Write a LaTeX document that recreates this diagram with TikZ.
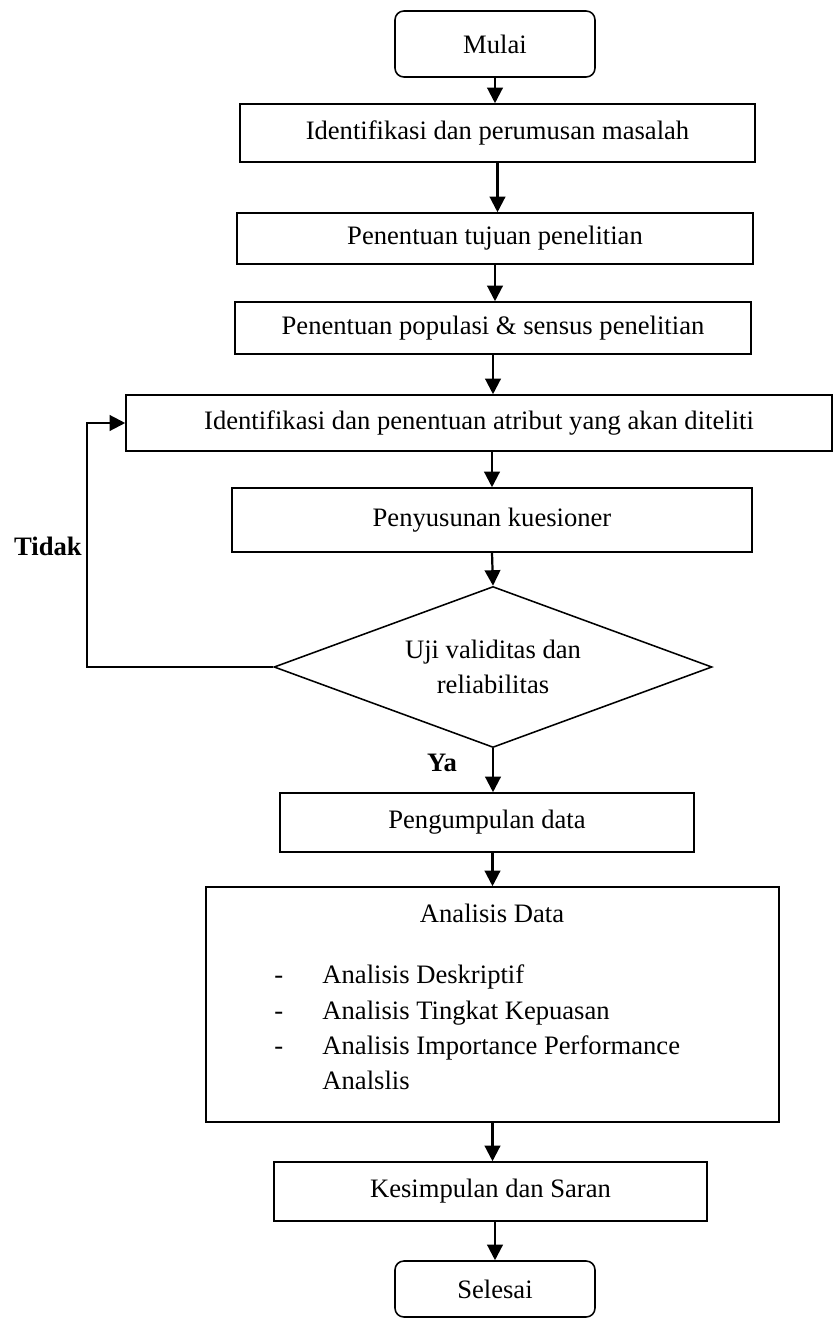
\documentclass[tikz,border=0pt]{standalone}
\usepackage{fontspec}
\setmainfont{Liberation Serif}
\usetikzlibrary{arrows.meta,shapes.geometric}
\newcommand{\px}{0.451pt}

\begin{document}
\begin{tikzpicture}[x=\px,y=-\px,
    every node/.style={font=\fontsize{12pt}{16pt}\selectfont},
    kotak/.style={draw,line width=0.7pt,inner sep=0pt,align=center},
    ujung/.style={kotak,rounded corners=4pt,minimum width=200*\px},
    label/.style={font=\fontsize{12pt}{16pt}\selectfont\bfseries},
    butir/.style={inner sep=0pt,anchor=base west},
    panah/.style={line width=1pt,-{Triangle[length=7pt,width=7pt]}}]
      \useasboundingbox (0,0) rectangle (833,1319) ;
      % langkah-langkah
      \node[ujung,minimum height=66*\px] (mulai) at (495,44) {Mulai} ;
      \node[kotak,minimum width=515*\px,minimum height=58*\px] %
      (masalah) at (497.5,133) {Identifikasi dan perumusan masalah} ;
      \node[kotak,minimum width=516*\px,minimum height=51*\px] %
      (tujuan) at (495,238.5) {Penentuan tujuan penelitian} ;
      \node[kotak,minimum width=516*\px,minimum height=52*\px] %
      (populasi) at (493,328) {Penentuan populasi \& sensus penelitian} ;
      \node[kotak,minimum width=706*\px,minimum height=56*\px] %
      (atribut) at (479,423) {Identifikasi dan penentuan atribut yang akan diteliti} ;
      \node[kotak,minimum width=520*\px,minimum height=64*\px] %
      (kuesioner) at (492,520) {Penyusunan kuesioner} ;
      \node[kotak,diamond,aspect=2.7,minimum width=438*\px,minimum height=161*\px] %
      (uji) at (493,667) {Uji validitas dan\\reliabilitas} ;
      \node[kotak,minimum width=414*\px,minimum height=59*\px] %
      (data) at (487,822.5) {Pengumpulan data} ;
      \node[kotak,minimum width=573*\px,minimum height=235*\px] %
      (analisis) at (492.5,1004.5) {} ;
      \node[inner sep=0pt,anchor=base] (judul) at (492,922) {Analisis Data} ;
      \node[butir] (strip1) at (274,983) {-} ;
      \node[butir] (strip2) at (274,1019) {-} ;
      \node[butir] (strip3) at (274,1054) {-} ;
      \node[butir] (item1) at (322,983) {Analisis Deskriptif} ;
      \node[butir] (item2) at (322,1019) {Analisis Tingkat Kepuasan} ;
      \node[butir] (item3) at (322,1054) {Analisis Importance Performance} ;
      \node[butir] (item4) at (322,1089) {Analslis} ;
      \node[kotak,minimum width=433*\px,minimum height=59*\px] %
      (kesimpulan) at (490.5,1191.5) {Kesimpulan dan Saran} ;
      \node[ujung,minimum height=56*\px] (selesai) at (495,1289) {Selesai} ;
      % panah
      \draw[panah] (mulai.south) -- (mulai.south |- masalah.north) ;
      \draw[panah] (masalah.south) -- (masalah.south |- tujuan.north) ;
      \draw[panah] (tujuan.south) -- (tujuan.south |- populasi.north) ;
      \draw[panah] (populasi.south) -- (populasi.south |- atribut.north) ;
      \draw[panah] (kuesioner |- atribut.south) -- (kuesioner.north) ;
      \draw[panah] (kuesioner.south) -- (uji.north) ;
      \draw[panah] (uji.south) -- (uji.south |- data.north) ;
      \draw[panah] (analisis |- data.south) -- (analisis.north) ;
      \draw[panah] (analisis.south) -- (analisis.south |- kesimpulan.north) ;
      \draw[panah] (selesai |- kesimpulan.south) -- (selesai.north) ;
      \coordinate (belok) at (87,667) ;
      \draw[panah] (uji.west) -- (belok) |- (atribut.west) ;
      \node[label] (tidak) at (48,546) {Tidak} ;
      \node[label] (ya) at (442,763) {Ya} ;
    \end{tikzpicture}
\end{document}
